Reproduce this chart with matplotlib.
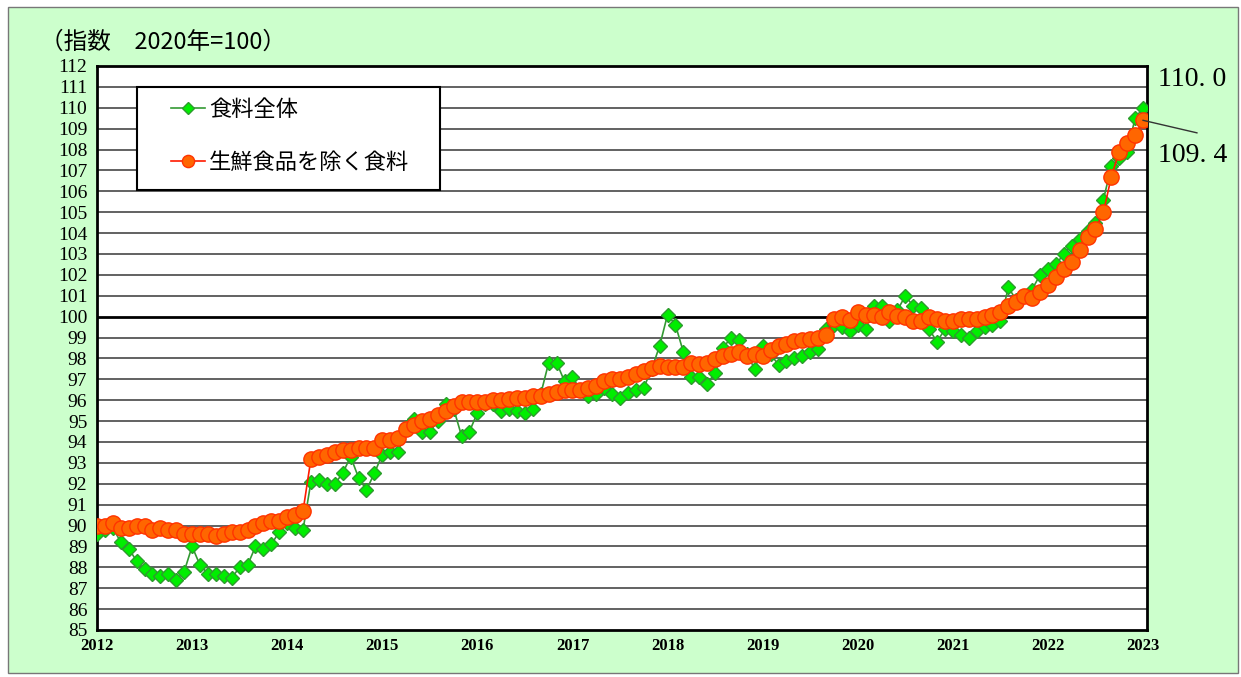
import numpy as np
import matplotlib
matplotlib.use("Agg")
import matplotlib.pyplot as plt
from matplotlib.patches import Rectangle

# CJK text needs a Japanese family, numbers are drawn in a Times-like serif
plt.rcParams['font.family'] = ['Noto Sans CJK JP', 'DejaVu Sans']
SERIF = ['Liberation Serif', 'DejaVu Serif']

# ---- data (monthly, Jan 2012 .. Jan 2023, 2020 = 100) ----
year_labels = [str(y) for y in range(2012, 2024)]

# 食料全体
food_all = [
    89.6, 89.8, 89.9, 89.2, 88.9, 88.3, 87.9, 87.7, 87.6, 87.7, 87.4, 87.8,
    89.0, 88.1, 87.7, 87.7, 87.6, 87.5, 88.0, 88.1, 89.0, 88.9, 89.1, 89.7,
    90.1, 89.9, 89.8, 92.1, 92.2, 92.0, 92.0, 92.5, 93.3, 92.3, 91.7, 92.5,
    93.4, 93.5, 93.5, 94.7, 95.1, 94.5, 94.5, 95.0, 95.8, 95.6, 94.3, 94.5,
    95.4, 95.8, 95.8, 95.5, 95.6, 95.5, 95.4, 95.6, 96.3, 97.8, 97.8, 96.9,
    97.1, 96.5, 96.2, 96.3, 96.6, 96.3, 96.1, 96.35, 96.5, 96.6, 97.5, 98.6,
    100.1, 99.6, 98.3, 97.1, 97.1, 96.8, 97.3, 98.5, 99.0, 98.9, 98.2, 97.5,
    98.6, 98.2, 97.7, 97.9, 98.0, 98.1, 98.3, 98.45, 99.4, 99.6, 99.5, 99.3,
    99.6, 99.4, 100.5, 100.5, 99.8, 100.3, 101.0, 100.5, 100.4, 99.4, 98.8, 99.4,
    99.3, 99.1, 99.0, 99.3, 99.5, 99.6, 99.8, 101.4, 100.8, 101.0, 101.3, 102.0,
    102.3, 102.5, 103.0, 103.4, 103.7, 104.1, 104.5, 105.6, 107.2, 107.6, 107.9, 109.5,
    110.0,
]

# 生鮮食品を除く食料
food_core = [
    90.0, 90.0, 90.1, 89.9, 89.9, 90.0, 90.0, 89.8, 89.9, 89.8, 89.8, 89.6,
    89.6, 89.6, 89.6, 89.5, 89.6, 89.7, 89.7, 89.8, 90.0, 90.1, 90.2, 90.2,
    90.4, 90.5, 90.7, 93.2, 93.3, 93.4, 93.5, 93.6, 93.6, 93.7, 93.7, 93.7,
    94.1, 94.1, 94.2, 94.6, 94.8, 95.0, 95.1, 95.3, 95.5, 95.7, 95.9, 95.9,
    95.9, 95.9, 96.0, 96.0, 96.05, 96.1, 96.1, 96.2, 96.2, 96.3, 96.4, 96.5,
    96.5, 96.5, 96.6, 96.7, 96.9, 97.0, 97.0, 97.1, 97.25, 97.4, 97.55, 97.65,
    97.6, 97.6, 97.6, 97.8, 97.75, 97.8, 97.95, 98.1, 98.2, 98.3, 98.1, 98.2,
    98.1, 98.4, 98.6, 98.7, 98.85, 98.9, 98.95, 99.0, 99.1, 99.9, 100.0, 99.85,
    100.2, 100.1, 100.1, 100.0, 100.2, 100.05, 100.0, 99.8, 99.8, 100.0, 99.9, 99.8,
    99.8, 99.9, 99.9, 99.9, 100.0, 100.1, 100.2, 100.5, 100.7, 101.0, 100.9, 101.2,
    101.5, 101.9, 102.3, 102.6, 103.2, 103.8, 104.2, 105.0, 106.7, 107.9, 108.3, 108.7,
    109.4,
]

months = np.arange(len(food_all))

# ---- figure ----
W, H = 1241, 677
fig = plt.figure(figsize=(W / 100, H / 100), dpi=100)
fig.patch.set_facecolor('white')

# light green panel behind everything
fig.add_artist(Rectangle((8 / W, 4 / H), 1230 / W, 666 / H, transform=fig.transFigure,
                         facecolor='#CCFFCC', edgecolor='#777777', lw=1, zorder=0))

ax = fig.add_axes([97 / W, 1 - 630 / H, 1050 / W, 564 / H])
ax.set_facecolor('white')
ax.set_xlim(0, 132.5)
ax.set_ylim(85, 112)

# horizontal grid, the 100 line is heavier
for v in range(86, 112):
    if v == 100:
        ax.axhline(v, color='black', lw=2.0, zorder=1)
    else:
        ax.axhline(v, color='#555555', lw=1.3, zorder=1)

for s in ax.spines.values():
    s.set_linewidth(2)
    s.set_color('black')

ax.set_yticks(range(85, 113))
ax.set_yticklabels([str(v) for v in range(85, 113)], family=SERIF, fontsize=14)
ax.set_xticks(range(0, len(months), 12))
ax.set_xticklabels(year_labels, family=SERIF, fontsize=12, fontweight='bold')
ax.tick_params(axis='y', length=0, pad=7)
ax.tick_params(axis='x', length=0, pad=6)

# series
ax.plot(months, food_all, color='#339933', lw=1.2, marker='D', ms=7.5,
        mfc='#00EE00', mec='#2E9B2E', mew=1, label='食料全体', zorder=3)
ax.plot(months, food_core, color='#FF1A00', lw=1.2, marker='o', ms=11,
        mfc='#FF6600', mec='#FF3300', mew=1, label='生鮮食品を除く食料', zorder=4)

# legend: white box drawn separately so the entries can sit inset like the original
ax.add_patch(Rectangle((0.0381, 0.7801), 0.2886, 0.1826, transform=ax.transAxes,
                       facecolor='white', edgecolor='black', lw=1.5, zorder=4.8))
leg = ax.legend(loc='upper left', bbox_to_anchor=(0.0705, 0.943), frameon=False,
                prop={'family': ['Noto Sans CJK JP', 'DejaVu Sans'], 'size': 16},
                labelspacing=1.35, handlelength=1.55, handletextpad=0.15,
                borderpad=0, borderaxespad=0, markerscale=0.8)
leg.set_zorder(5)

# end-of-series values
last = len(months) - 1
ax.text(133.9, 111.33, f"{food_all[-1]:.1f}".replace('.', '. '), family=SERIF,
        fontsize=20, va='center', ha='left', clip_on=False)
ax.text(133.9, 107.73, f"{food_core[-1]:.1f}".replace('.', '. '), family=SERIF,
        fontsize=20, va='center', ha='left', clip_on=False)
ax.plot([last, 138.8], [food_core[-1], 108.8], color='#333333', lw=1,
        clip_on=False, zorder=5)

fig.text(40 / W, 1 - 42 / H, '（指数　2020年=100）', fontsize=17, va='center', ha='left')

fig.savefig('out.png', dpi=100)
